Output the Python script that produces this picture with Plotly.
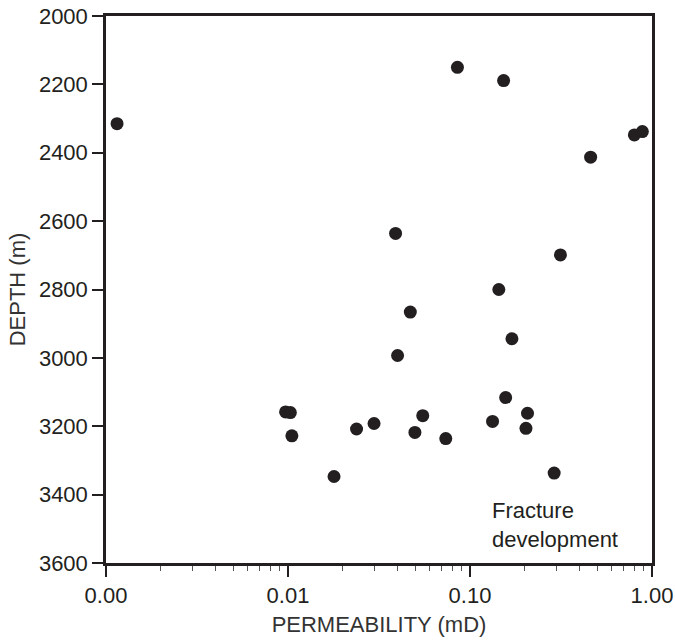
import math
import plotly.graph_objects as go

# Permeability (mD) and depth (m) of core samples
permeability = [0.00115, 0.0853, 0.153, 0.80, 0.885, 0.46, 0.039, 0.314, 0.144,
                0.047, 0.170, 0.040, 0.157, 0.0097, 0.0103, 0.0105, 0.207, 0.055,
                0.0297, 0.0238, 0.133, 0.203, 0.0498, 0.0736, 0.29, 0.0179]
depth = [2315, 2150, 2189, 2348, 2338, 2413, 2636, 2699, 2800,
         2866, 2944, 2993, 3116, 3158, 3160, 3228, 3162, 3169,
         3192, 3208, 3186, 3206, 3218, 3236, 3337, 3347]

x_tickvals = [0.001, 0.01, 0.1, 1]
x_ticktext = ["0.00", "0.01", "0.10", "1.00"]

ink = "#231f20"
font = "Liberation Sans, Arial, sans-serif"

fig = go.Figure()
fig.add_trace(go.Scatter(
    x=permeability, y=depth, mode="markers",
    marker=dict(size=13, color=ink, line=dict(width=0)),
    showlegend=False,
))

# annotation positions on a log axis are given in log10 units
fig.add_annotation(
    x=math.log10(0.128), y=3405, xref="x", yref="y",
    text="Fracture<br>development", showarrow=False,
    xanchor="left", yanchor="top", align="left",
    font=dict(family=font, size=22, color=ink),
)

fig.update_xaxes(
    type="log", range=[-3, 0], automargin=False,
    tickvals=x_tickvals, ticktext=x_ticktext,
    ticks="outside", ticklen=11, tickwidth=1.5, tickcolor=ink,
    minor=dict(ticks="outside", ticklen=5, tickwidth=1, tickcolor="#555",
               dtick="D1", showgrid=False),
    showline=True, linewidth=2.5, linecolor=ink, mirror=True,
    showgrid=False, zeroline=False,
    tickfont=dict(family=font, size=22, color=ink),
    title=dict(text="PERMEABILITY (mD)", standoff=10,
               font=dict(family=font, size=22, color="#333")),
)
fig.update_yaxes(
    range=[3600, 2000], tick0=2000, dtick=200, automargin=False,
    ticks="outside", ticklen=11, tickwidth=1.5, tickcolor=ink,
    showline=True, linewidth=2.5, linecolor=ink, mirror=True,
    showgrid=False, zeroline=False,
    tickfont=dict(family=font, size=22, color=ink),
    title=dict(text="DEPTH (m)", standoff=8,
               font=dict(family=font, size=22, color="#333")),
)

fig.update_layout(
    width=675, height=640,
    margin=dict(l=106, r=23, t=16, b=77),
    plot_bgcolor="white", paper_bgcolor="white",
)

fig.write_html("out.html")
